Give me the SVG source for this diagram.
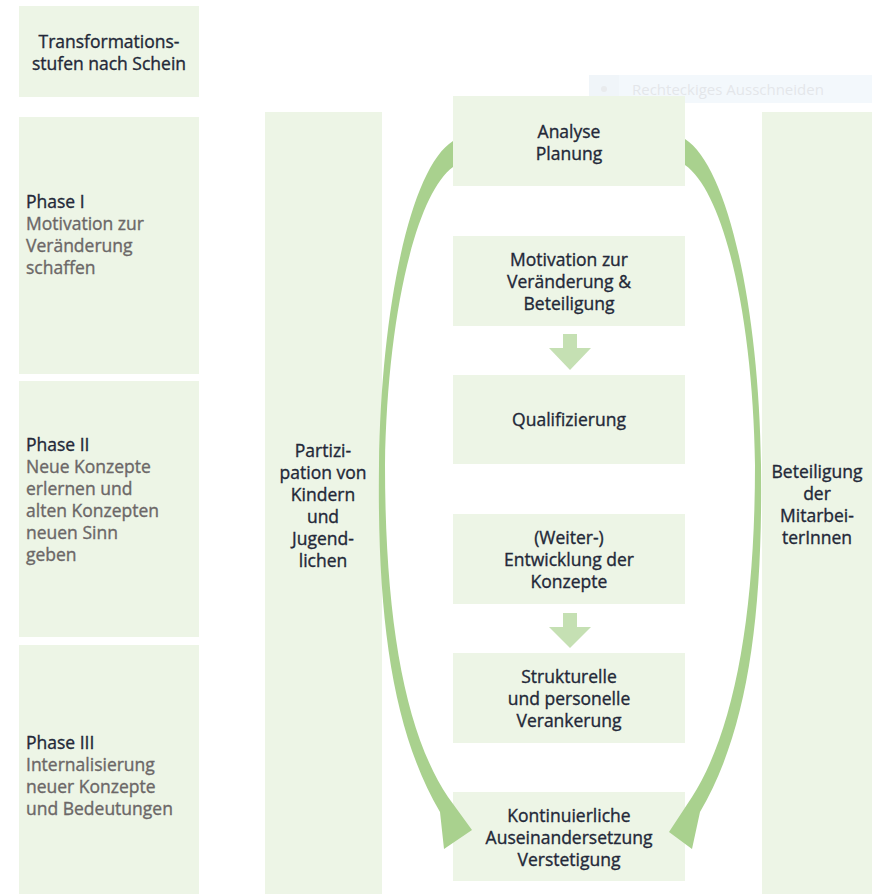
<svg xmlns="http://www.w3.org/2000/svg" width="872" height="894" viewBox="0 0 872 894">
  <style>
    .box { fill: #edf5e6; }
    .t { font-family: "Open Sans", "Noto Sans", "Liberation Sans", sans-serif; font-size: 17.5px; fill: #232838; stroke: #232838; stroke-width: 0.35px; }
    .c { text-anchor: middle; }
    .sub { fill: #6b6767; stroke: #6b6767; }
    .curve { fill: #a9d18e; }
    .step { fill: #c5e0b3; }
  </style>
  <rect width="872" height="894" fill="#ffffff"/>

  <!-- faint selection toolbar overlay -->
  <g id="overlay" opacity="0.5">
    <rect x="589" y="75" width="283" height="28" fill="#e9f2fa"/>
    <rect x="589" y="75" width="30" height="28" fill="#e2ecf5"/>
    <circle cx="604" cy="89" r="3" fill="#d4d8dc"/>
    <text x="632" y="95" font-family="Open Sans, sans-serif" font-size="15" fill="#c9cfd6">Rechteckiges Ausschneiden</text>
  </g>

  <!-- left column: transformation stages -->
  <g id="header">
    <rect class="box" x="19" y="6" width="180" height="91"/>
    <text class="t c" x="109" y="48">Transformations-</text>
    <text class="t c" x="109" y="70">stufen nach Schein</text>
  </g>
  <g id="phase1">
    <rect class="box" x="19" y="117" width="180" height="257"/>
    <text class="t" x="26" y="208">Phase I</text>
    <text class="t sub" x="26" y="230">Motivation zur</text>
    <text class="t sub" x="26" y="252">Veränderung</text>
    <text class="t sub" x="26" y="274">schaffen</text>
  </g>
  <g id="phase2">
    <rect class="box" x="19" y="381" width="180" height="256"/>
    <text class="t" x="26" y="451">Phase II</text>
    <text class="t sub" x="26" y="473">Neue Konzepte</text>
    <text class="t sub" x="26" y="495">erlernen und</text>
    <text class="t sub" x="26" y="517">alten Konzepten</text>
    <text class="t sub" x="26" y="539">neuen Sinn</text>
    <text class="t sub" x="26" y="561">geben</text>
  </g>
  <g id="phase3">
    <rect class="box" x="19" y="645" width="180" height="249"/>
    <text class="t" x="26" y="749">Phase III</text>
    <text class="t sub" x="26" y="771">Internalisierung</text>
    <text class="t sub" x="26" y="793">neuer Konzepte</text>
    <text class="t sub" x="26" y="815">und Bedeutungen</text>
  </g>

  <!-- side columns -->
  <g id="partizipation">
    <rect class="box" x="265" y="112" width="117" height="782"/>
    <text class="t c" x="323" y="457">Partizi-</text>
    <text class="t c" x="323" y="479">pation von</text>
    <text class="t c" x="323" y="501">Kindern</text>
    <text class="t c" x="323" y="523">und</text>
    <text class="t c" x="323" y="545">Jugend-</text>
    <text class="t c" x="323" y="567">lichen</text>
  </g>
  <g id="beteiligung">
    <rect class="box" x="762" y="112" width="110" height="782"/>
    <text class="t c" x="817" y="478">Beteiligung</text>
    <text class="t c" x="817" y="500">der</text>
    <text class="t c" x="817" y="522">Mitarbei-</text>
    <text class="t c" x="817" y="544">terInnen</text>
  </g>

  <!-- centre process steps -->
  <g id="analyse">
    <rect class="box" x="453" y="96" width="232" height="90"/>
    <text class="t c" x="569" y="138">Analyse</text>
    <text class="t c" x="569" y="160">Planung</text>
  </g>
  <g id="motivation">
    <rect class="box" x="453" y="236" width="232" height="90"/>
    <text class="t c" x="569" y="266">Motivation zur</text>
    <text class="t c" x="569" y="288">Veränderung &amp;</text>
    <text class="t c" x="569" y="310">Beteiligung</text>
  </g>
  <g id="qualifizierung">
    <rect class="box" x="453" y="375" width="232" height="89"/>
    <text class="t c" x="569" y="426">Qualifizierung</text>
  </g>
  <g id="weiterentwicklung">
    <rect class="box" x="453" y="514" width="232" height="90"/>
    <text class="t c" x="569" y="544">(Weiter-)</text>
    <text class="t c" x="569" y="566">Entwicklung der</text>
    <text class="t c" x="569" y="588">Konzepte</text>
  </g>
  <g id="verankerung">
    <rect class="box" x="453" y="653" width="232" height="90"/>
    <text class="t c" x="569" y="683">Strukturelle</text>
    <text class="t c" x="569" y="705">und personelle</text>
    <text class="t c" x="569" y="727">Verankerung</text>
  </g>
  <g id="verstetigung">
    <rect class="box" x="453" y="792" width="232" height="89"/>
    <text class="t c" x="569" y="822">Kontinuierliche</text>
    <text class="t c" x="569" y="844">Auseinandersetzung</text>
    <text class="t c" x="569" y="866">Verstetigung</text>
  </g>

  <!-- connectors: curved feedback arrows and step arrows, drawn over the boxes -->
  <g id="connectors">
    <path class="curve" d="M453,141 C410,168 381,310 379,465 C377,620 393,732 440,812 L444,849 L472,830 L448,797 C405,733 385,620 385,465 C387,320 415,195 453,167 Z"/>
    <path class="curve" d="M685,139 C728,166 759,308 761,465 C763,620 747,732 700,812 L692,849 L669,832 L692,797 C733,733 755,620 755,465 C753,320 725,193 685,165 Z"/>
    <path class="step" d="M563,334 H577 V348 H591 L570,370 L549,348 H563 Z"/>
    <path class="step" d="M563,613 H577 V627 H591 L570,648 L549,627 H563 Z"/>
  </g>
</svg>
